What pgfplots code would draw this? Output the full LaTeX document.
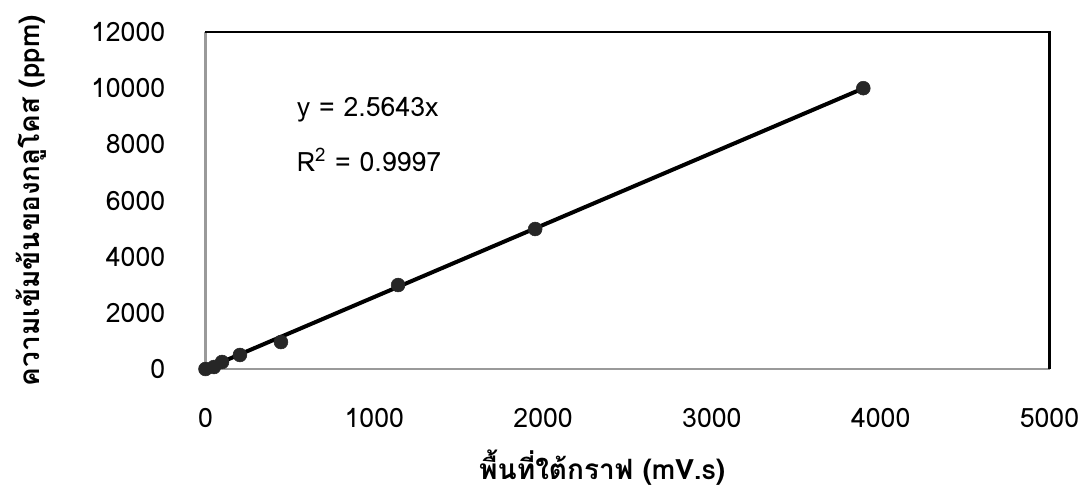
\documentclass[border=0pt]{standalone}
\usepackage{fontspec}
\setmainfont[Script=Thai]{Loma}
\usepackage{pgfplots}
\pgfplotsset{compat=1.18}
\definecolor{framegray}{HTML}{9A9A9A}
\definecolor{dotgray}{HTML}{262626}
\newcommand{\lblfont}{\fontsize{20}{24}\selectfont}
\newcommand{\titlefont}{\fontsize{21}{25}\selectfont}
\begin{document}
\begin{tikzpicture}
\useasboundingbox (-154.125pt,-99pt) rectangle (656.625pt,276.75pt);
\begin{axis}[
  at={(0,0)}, anchor=south west,
  scale only axis, width=633pt, height=252.75pt,
  xmin=0, xmax=5000, ymin=0, ymax=12000,
  xtick={0,1000,...,5000}, ytick={0,2000,...,12000},
  scaled ticks=false,
  major tick length=0pt,
  axis line style={draw=none},
  clip=false,
  /pgf/number format/assume math mode=true,
  /pgf/number format/1000 sep={},
  tick label style={font=\lblfont},
  xticklabel style={anchor=center, yshift=-37pt},
  yticklabel style={anchor=east, inner sep=0pt, xshift=-30pt},
  xlabel={\textbf{พื้นที่ใต้กราฟ (mV.s)}},
  xlabel style={font=\titlefont, at={(axis description cs:0.47,0)}, anchor=center, yshift=-74pt},
  ylabel={\textbf{ความเข้มข้นของกลูโคส (ppm)}},
  ylabel style={font=\titlefont, at={(axis description cs:0,0.5)}, anchor=center, rotate=0, yshift=131pt},
]
% linear trendline through the origin
\addplot[black, line width=3pt] coordinates {(0,0) (3897,9993)};
% calibration standards
\addplot[only marks, mark=*, mark size=5.2pt, color=dotgray] coordinates {
  (0,0) (50,70) (98,250) (204,500) (447,960) (1141,2990) (1953,4985) (3897,10000)
};
\node[anchor=west, font=\lblfont] at (axis cs:513,9220) {y = 2.5643x};
\node[anchor=west, font=\lblfont] at (axis cs:513,7440) {R\textsuperscript{2} = 0.9997};
% plot area frame
\draw[framegray, line width=2.2pt] (rel axis cs:0,1) -- (rel axis cs:0,0) -- (rel axis cs:1,0);
\draw[black, line width=2.2pt] (rel axis cs:0,1) -- (rel axis cs:1,1) -- (rel axis cs:1,0);
\end{axis}
\end{tikzpicture}
\end{document}
